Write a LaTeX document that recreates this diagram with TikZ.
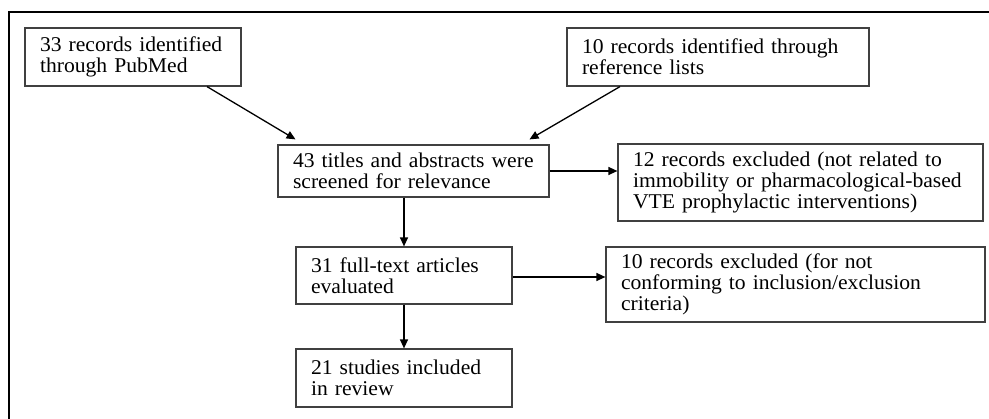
\documentclass[tikz,border=0pt]{standalone}
\usepackage{fontspec}
\setmainfont[FakeStretch=1.03]{Liberation Serif}
\usetikzlibrary{arrows.meta}
\hyphenpenalty=10000
\exhyphenpenalty=10000
\begin{document}
\begin{tikzpicture}[x=1pt, y=-1pt,
    box/.style={rectangle, draw=black!75, line width=1.2pt, inner xsep=15pt, inner ysep=0pt, align=left, font=\fontsize{21}{21}\selectfont},
    arr/.style={-{Triangle[length=9pt, width=8pt]}, line width=1.3pt}
]
\useasboundingbox (0,0) rectangle (989,419);
\draw[line width=2.4pt] (9,419) -- (9,12) -- (989,12);

\node[box, text width=186pt, minimum height=58pt] (pubmed) at (133, 57) {33 records identified\\through PubMed};
\node[box, text width=272pt, minimum height=58pt] (reflists) at (718, 57) {10 records identified through\\reference lists};
\node[box, text width=241pt, minimum height=52pt] (screen) at (413.5, 171) {43 titles and abstracts were\\screened for relevance};
\node[box, text width=335pt, minimum height=77pt] (exclone) at (800.5, 182.5) {12 records excluded (not related to\\immobility or pharmacological-based\\VTE prophylactic interventions)};
\node[box, text width=186pt, minimum height=57pt] (fulltext) at (404, 275.5) {31 full-text articles\\evaluated};
\node[box, text width=349pt, minimum height=75pt] (excltwo) at (795.5, 284.5) {10 records excluded (for not\\conforming to inclusion/exclusion\\criteria)};
\node[box, text width=186pt, minimum height=58pt] (included) at (404, 378) {21 studies included\\in review};

\draw[arr] ([xshift=74pt]pubmed.south) -- ([xshift=-118pt, yshift=5pt]screen.north);
\draw[arr] ([xshift=-98pt]reflists.south) -- ([xshift=116pt, yshift=5pt]screen.north);
\draw[arr] (screen.east) -- (screen.east -| exclone.west);
\draw[arr] (fulltext.north |- screen.south) -- (fulltext.north);
\draw[arr] ([yshift=-1.5pt]fulltext.east) -- ([yshift=-1.5pt]fulltext.east -| excltwo.west);
\draw[arr] (fulltext.south) -- (included.north);
\end{tikzpicture}
\end{document}
